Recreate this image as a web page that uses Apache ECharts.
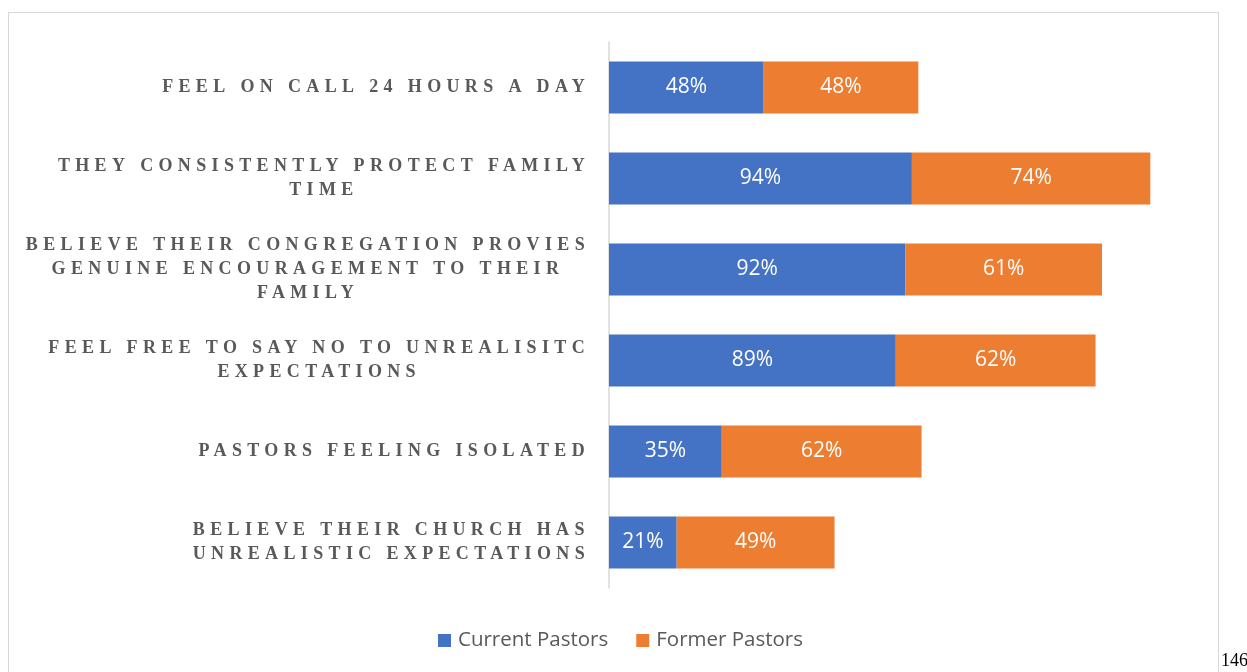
<!DOCTYPE html>
<html>
<head>
<meta charset="utf-8">
<script src="https://cdn.jsdelivr.net/npm/echarts@6/dist/echarts.min.js"></script>
<style>
  html, body { margin: 0; padding: 0; background: #fff; overflow: hidden; width: 1247px; height: 672px; }
  #frame { position: absolute; left: 8px; top: 12px; width: 1211px; height: 700px; border: 1px solid #d9d9d9; box-sizing: border-box; }
  #chart { position: absolute; left: 0; top: 0; width: 1247px; height: 672px; }
  #page { position: absolute; left: 1221px; top: 650px; font: 18px 'Liberation Serif', serif; color: #000; white-space: nowrap; }
</style>
</head>
<body>
<div id="frame"></div>
<div id="chart"></div>
<div id="page">146</div>
<script>
// Survey statements, listed top to bottom
const categories = [
  'FEEL ON CALL 24 HOURS A DAY',
  'THEY CONSISTENTLY PROTECT FAMILY\nTIME',
  'BELIEVE THEIR CONGREGATION PROVIES\nGENUINE ENCOURAGEMENT TO THEIR\nFAMILY',
  'FEEL FREE TO SAY NO TO UNREALISITC\nEXPECTATIONS',
  'PASTORS FEELING ISOLATED',
  'BELIEVE THEIR CHURCH HAS\nUNREALISTIC EXPECTATIONS'
];
const currentPastors = [48, 94, 92, 89, 35, 21];
const formerPastors  = [48, 74, 61, 62, 62, 49];
const seriesNames = ['Current Pastors', 'Former Pastors'];

// Spaced-out caps for the category labels: the canvas letterSpacing is applied
// whenever the serif label font is being measured or drawn.
const SPACED_FONT = 'Liberation Serif';
const LABEL_SPACING = '5.35px';
['fillText', 'strokeText', 'measureText'].forEach(function (fn) {
  const orig = CanvasRenderingContext2D.prototype[fn];
  CanvasRenderingContext2D.prototype[fn] = function () {
    const prev = this.letterSpacing;
    this.letterSpacing = this.font.indexOf(SPACED_FONT) >= 0 ? LABEL_SPACING : '0px';
    const r = orig.apply(this, arguments);
    this.letterSpacing = prev;
    return r;
  };
});

const chart = echarts.init(document.getElementById('chart'), null, { renderer: 'canvas' });

const barLabel = {
  show: true,
  position: 'inside',
  color: '#ffffff',
  fontFamily: 'Open Sans',
  fontSize: 21,
  formatter: '{c}%'
};

chart.setOption({
  animation: false,
  backgroundColor: 'transparent',
  grid: { left: 609, right: 58, top: 42, bottom: 84, containLabel: false },
  xAxis: {
    type: 'value',
    min: 0,
    max: 180,
    show: false
  },
  yAxis: {
    type: 'category',
    inverse: true,
    data: categories,
    axisLine: { show: true, lineStyle: { color: '#d9d9d9', width: 1.5 } },
    axisTick: { show: false },
    splitLine: { show: false },
    axisLabel: {
      margin: 19,
      align: 'right',
      formatter: function (v) {
        return v.split('\n').map(function (l) { return '{c|' + l + '}'; }).join('\n');
      },
      rich: {
        c: {
          align: 'center',
          fontFamily: 'Liberation Serif',
          fontWeight: 'bold',
          fontSize: 18,
          lineHeight: 24,
          color: '#595959'
        }
      }
    }
  },
  legend: {
    data: seriesNames,
    left: 433,
    top: 625,
    icon: 'rect',
    itemWidth: 13,
    itemHeight: 13,
    itemGap: 28,
    textStyle: { fontFamily: 'Open Sans', fontSize: 20.5, color: '#595959', padding: [0, 0, 0, 2] }
  },
  series: [
    {
      name: seriesNames[0],
      type: 'bar',
      stack: 'total',
      barWidth: 52,
      data: currentPastors,
      itemStyle: { color: '#4472C4' },
      label: barLabel
    },
    {
      name: seriesNames[1],
      type: 'bar',
      stack: 'total',
      barWidth: 52,
      data: formerPastors,
      itemStyle: { color: '#ED7D31' },
      label: barLabel
    }
  ]
});
</script>
</body>
</html>
